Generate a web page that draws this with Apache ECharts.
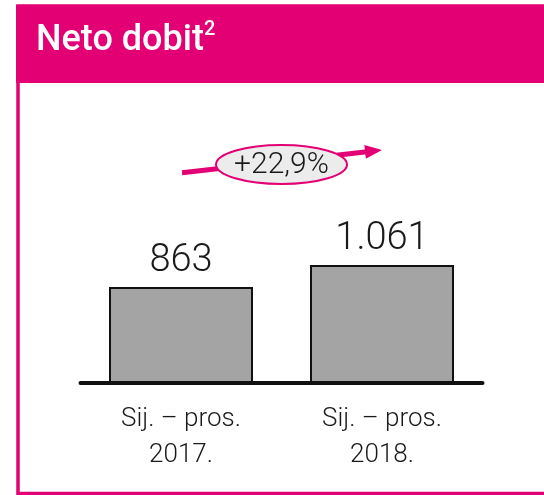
<!DOCTYPE html>
<html>
<head>
<meta charset="utf-8">
<script src="https://cdn.jsdelivr.net/npm/echarts@6/dist/echarts.min.js"></script>
<style>
html, body { margin: 0; padding: 0; background: #fff; }
#main { width: 544px; height: 495px; }
</style>
</head>
<body>
<div id="main"></div>
<script>
// data
var periods = ['Sij. – pros.', 'Sij. – pros.'];
var years = ['2017.', '2018.'];
var netProfit = [863, 1061];
var chartTitle = 'Neto dobit';
var titleNote = '2';

var magenta = '#e20074';
var textColor = '#1a1a1a';
var font = 'Roboto, "Liberation Sans", sans-serif';

var categories = periods.map(function (p, i) { return p + '\n' + years[i]; });

// 1061 -> "1.061"
function fmt(v) {
    return String(v).replace(/\B(?=(\d{3})+(?!\d))/g, '.');
}
var growth = ((netProfit[1] / netProfit[0] - 1) * 100).toFixed(1).replace('.', ',');

var mainDiv = document.getElementById('main');
var myChart = echarts.init(mainDiv);

var option = {
    backgroundColor: '#ffffff',
    animation: false,
    title: {
        text: '{n|' + chartTitle + '}{s|' + titleNote + '}',
        left: 36,
        top: 20,
        padding: 0,
        textStyle: {
            rich: {
                n: { color: '#fff', fontSize: 36, fontWeight: 500, fontFamily: font, lineHeight: 42 },
                s: { color: '#fff', fontSize: 20, fontWeight: 500, fontFamily: font, lineHeight: 22, verticalAlign: 'top' }
            }
        }
    },
    grid: {
        left: 80.5,
        width: 402,
        top: 83,
        bottom: 112
    },
    xAxis: {
        type: 'category',
        data: categories,
        z: 5,
        axisLine: {
            lineStyle: { color: '#111', width: 4 }
        },
        axisTick: { show: false },
        axisLabel: {
            color: textColor,
            fontSize: 26,
            fontWeight: 300,
            lineHeight: 36,
            margin: 18,
            fontFamily: font
        }
    },
    yAxis: {
        type: 'value',
        min: 0,
        max: 2700,
        show: false
    },
    series: [
        {
            name: chartTitle,
            type: 'bar',
            data: netProfit,
            barWidth: 144,
            itemStyle: {
                color: '#a4a4a4',
                borderColor: '#111',
                borderWidth: 2
            },
            label: {
                show: true,
                position: 'top',
                distance: 7,
                fontSize: 38,
                fontWeight: 300,
                color: textColor,
                fontFamily: font,
                formatter: function (p) { return fmt(p.value); }
            }
        }
    ]
};
myChart.setOption(option);

// frame, header and the growth arrow between the two bars
function drawDecor() {
    var x0 = myChart.convertToPixel({ xAxisIndex: 0 }, 0);
    var x1 = myChart.convertToPixel({ xAxisIndex: 0 }, 1);
    var y0 = 172.7, y1 = 150;
    var dx = x1 - x0, dy = y1 - y0;
    var len = Math.sqrt(dx * dx + dy * dy);
    var ux = dx / len, uy = dy / len;
    var headLen = 17, headW = 7;
    var bx = x1 - ux * headLen, by = y1 - uy * headLen;
    var cx = (x0 + x1) / 2, cy = 164.5;

    myChart.setOption({
        graphic: [
            {
                type: 'rect', z: 1,
                shape: { x: 16, y: 5, width: 540, height: 78 },
                style: { fill: magenta }
            },
            {
                type: 'rect', z: 1,
                shape: { x: 18, y: 6, width: 540, height: 487.5 },
                style: { fill: 'transparent', stroke: magenta, lineWidth: 3.5 }
            },
            {
                type: 'line', z: 10,
                shape: { x1: x0 + 1, y1: y0, x2: bx + ux * 2, y2: by + uy * 2 },
                style: { stroke: magenta, lineWidth: 5 }
            },
            {
                type: 'polygon', z: 10,
                shape: { points: [[x1, y1], [bx - uy * headW, by + ux * headW], [bx + uy * headW, by - ux * headW]] },
                style: { fill: magenta }
            },
            {
                type: 'ellipse', z: 11,
                shape: { cx: cx, cy: cy, rx: 65.5, ry: 19.5 },
                style: { fill: '#ececec', stroke: magenta, lineWidth: 2 }
            },
            {
                type: 'text', z: 12,
                style: {
                    text: '+' + growth + '%',
                    x: cx, y: cy + 1,
                    align: 'center', verticalAlign: 'middle',
                    fontSize: 30, fontWeight: 300, fontFamily: font, fill: textColor
                }
            }
        ]
    });
}
drawDecor();
</script>
</body>
</html>
